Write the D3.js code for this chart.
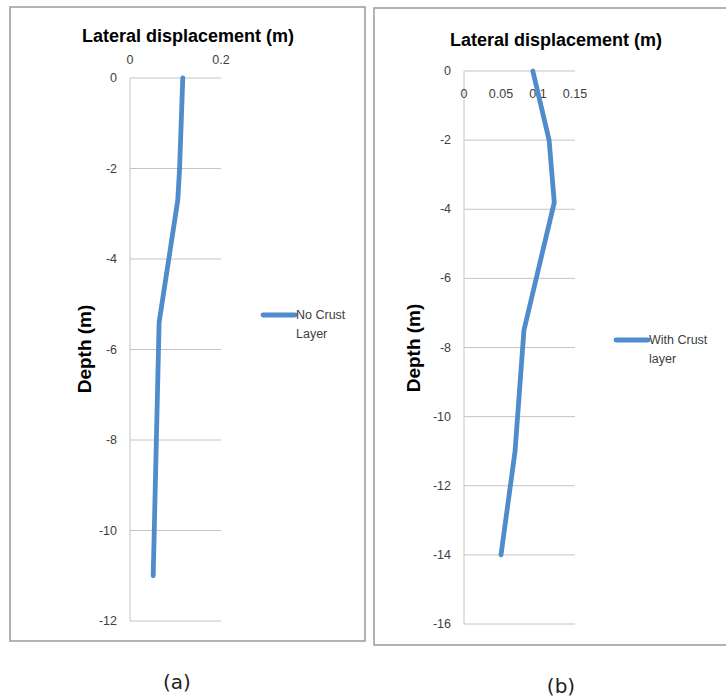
<!DOCTYPE html>
<html>
<head>
<meta charset="utf-8">
<script src="https://cdn.jsdelivr.net/npm/d3@7"></script>
<style>
  body { margin: 0; background: #fff; }
  svg { display: block; }
  .tick-label { font-family: "Liberation Sans", Arial, sans-serif; font-size: 12.5px; fill: #404040; }
  .title { font-family: "Liberation Sans", Arial, sans-serif; font-size: 18px; font-weight: bold; fill: #000; }
  .ytitle { font-family: "Liberation Sans", Arial, sans-serif; font-size: 19px; font-weight: bold; fill: #000; }
  .legend { font-family: "Liberation Sans", Arial, sans-serif; font-size: 12.5px; fill: #404040; }
  .caption { font-family: "DejaVu Sans", sans-serif; font-size: 20px; fill: #222; }
</style>
</head>
<body>
<svg id="chart" width="726" height="700"></svg>
<script>
// Panel (a): no crust layer — [depth (m), displacement (m)]
const noCrustDepth = [0, -2, -2.7, -5.4, -11];
const noCrustDisp = [0.116, 0.109, 0.105, 0.064, 0.051];
const noCrustXTicks = [0, 0.2];
const noCrustYTicks = [0, -2, -4, -6, -8, -10, -12];

// Panel (b): with crust layer
const crustDepth = [0, -2, -3.8, -7.5, -11, -14];
const crustDisp = [0.093, 0.115, 0.122, 0.081, 0.069, 0.050];
const crustXTicks = [0, 0.05, 0.1, 0.15];
const crustYTicks = [0, -2, -4, -6, -8, -10, -12, -14, -16];

const svg = d3.select('#chart');
const lineColor = '#4f8ccb';
const gridColor = '#c4c4c4';

function drawPanel(cfg) {
    // Outer frame
    svg.append('rect')
        .attr('x', cfg.frame[0]).attr('y', cfg.frame[1])
        .attr('width', cfg.frame[2]).attr('height', cfg.frame[3])
        .attr('fill', '#fff')
        .attr('stroke', '#9a9a9a')
        .attr('stroke-width', 1.5);

    const x = d3.scaleLinear().domain(cfg.xDomain).range([cfg.left, cfg.right]);
    const y = d3.scaleLinear().domain(cfg.yDomain).range([cfg.top, cfg.bottom]);

    const g = svg.append('g');

    // Horizontal grid lines
    g.selectAll('.grid')
        .data(cfg.yTicks)
        .enter()
        .append('line')
        .attr('x1', cfg.left)
        .attr('x2', cfg.right)
        .attr('y1', d => y(d))
        .attr('y2', d => y(d))
        .attr('stroke', gridColor)
        .attr('stroke-width', 1);

    // Vertical axis line
    g.append('line')
        .attr('x1', x(0)).attr('x2', x(0))
        .attr('y1', cfg.top).attr('y2', cfg.bottom)
        .attr('stroke', gridColor)
        .attr('stroke-width', 1);

    // Y tick labels
    g.selectAll('.ylab')
        .data(cfg.yTicks)
        .enter()
        .append('text')
        .attr('class', 'tick-label')
        .attr('x', cfg.left - 13)
        .attr('y', d => y(d) + 4)
        .attr('text-anchor', 'end')
        .text(d => String(d));

    // X tick labels
    g.selectAll('.xlab')
        .data(cfg.xTicks)
        .enter()
        .append('text')
        .attr('class', 'tick-label')
        .attr('x', d => x(d))
        .attr('y', cfg.xLabelY)
        .attr('text-anchor', 'middle')
        .text(d => String(d));

    // Titles
    svg.append('text')
        .attr('class', 'title')
        .attr('x', cfg.titleX)
        .attr('y', cfg.titleY)
        .attr('text-anchor', 'middle')
        .text('Lateral displacement (m)');

    svg.append('text')
        .attr('class', 'ytitle')
        .attr('transform', `translate(${cfg.yTitleX}, ${cfg.yTitleY}) rotate(-90)`)
        .attr('text-anchor', 'middle')
        .text('Depth (m)');

    // Series line
    const pts = cfg.depth.map((d, i) => [cfg.disp[i], d]);
    const line = d3.line()
        .x(d => x(d[0]))
        .y(d => y(d[1]));

    g.append('path')
        .datum(pts)
        .attr('d', line)
        .attr('fill', 'none')
        .attr('stroke', lineColor)
        .attr('stroke-width', 4.8)
        .attr('stroke-linecap', 'round')
        .attr('stroke-linejoin', 'round');

    // Legend
    svg.append('line')
        .attr('x1', cfg.legendX).attr('x2', cfg.legendX + 32)
        .attr('y1', cfg.legendY).attr('y2', cfg.legendY)
        .attr('stroke', lineColor)
        .attr('stroke-width', 4.8)
        .attr('stroke-linecap', 'round');

    const lt = svg.append('text')
        .attr('class', 'legend')
        .attr('x', cfg.legendX + 33)
        .attr('y', cfg.legendY + 4);
    lt.append('tspan').text(cfg.legend[0]);
    lt.append('tspan')
        .attr('x', cfg.legendX + 33)
        .attr('dy', 19)
        .text(cfg.legend[1]);

    // Caption
    svg.append('text')
        .attr('class', 'caption')
        .attr('x', cfg.captionX)
        .attr('y', cfg.captionY)
        .attr('text-anchor', 'middle')
        .text(cfg.caption);
}

drawPanel({
    frame: [10, 7, 355, 634],
    xDomain: [0, 0.2], yDomain: [0, -12],
    left: 130, right: 221, top: 78, bottom: 621,
    xTicks: noCrustXTicks, yTicks: noCrustYTicks,
    xLabelY: 64,
    titleX: 188, titleY: 42,
    yTitleX: 91, yTitleY: 349,
    depth: noCrustDepth, disp: noCrustDisp,
    legendX: 263, legendY: 315,
    legend: ['No Crust', 'Layer'],
    caption: '(a)', captionX: 177, captionY: 689
});

drawPanel({
    frame: [374, 8, 360, 637],
    xDomain: [0, 0.15], yDomain: [0, -16],
    left: 464, right: 575, top: 71, bottom: 624,
    xTicks: crustXTicks, yTicks: crustYTicks,
    xLabelY: 98,
    titleX: 556, titleY: 46,
    yTitleX: 420, yTitleY: 348,
    depth: crustDepth, disp: crustDisp,
    legendX: 616, legendY: 340,
    legend: ['With Crust', 'layer'],
    caption: '(b)', captionX: 561, captionY: 693
});
</script>
</body>
</html>
